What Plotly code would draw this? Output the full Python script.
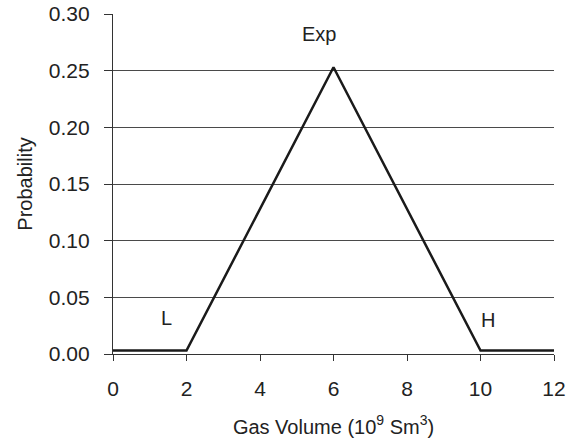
import plotly.graph_objects as go

# Triangular probability distribution of gas volume
gas_volume = [0, 2, 6, 10, 12]
probability = [0.003, 0.003, 0.253, 0.003, 0.003]

x_ticks = [0, 2, 4, 6, 8, 10, 12]
y_ticks = [0.00, 0.05, 0.10, 0.15, 0.20, 0.25, 0.30]

point_labels = ["L", "Exp", "H"]
label_x = [1.45, 5.6, 10.2]
label_y = [0.032, 0.282, 0.030]

FAMILY = "Liberation Sans, Arial, sans-serif"
INK = "#222222"

fig = go.Figure()
fig.add_trace(go.Scatter(
    x=gas_volume, y=probability, mode="lines",
    line=dict(color="#1a1a1a", width=2.5),
    showlegend=False, hoverinfo="skip",
))

for txt, xv, yv in zip(point_labels, label_x, label_y):
    fig.add_annotation(x=xv, y=yv, text=txt, showarrow=False,
                       font=dict(family=FAMILY, size=20, color=INK))

fig.update_layout(
    width=575, height=445,
    margin=dict(l=113, r=21, t=14, b=91),
    paper_bgcolor="white", plot_bgcolor="white",
    font=dict(family=FAMILY, size=20, color=INK),
    xaxis=dict(
        range=[0, 12], tickvals=x_ticks, ticktext=[str(v) for v in x_ticks],
        tickfont=dict(family=FAMILY, size=21, color=INK),
        showgrid=False, zeroline=False, automargin=False,
        showline=True, linecolor="#333333", linewidth=1.3,
        ticks="outside", ticklen=6, tickcolor="#333333", tickwidth=1.3,
        ticklabelstandoff=10,
        title=dict(text="Gas Volume (10<sup>9</sup> Sm<sup>3</sup>)",
                   font=dict(family=FAMILY, size=20, color=INK), standoff=20),
    ),
    yaxis=dict(
        range=[0, 0.30], tickvals=y_ticks, ticktext=[f"{v:.2f}" for v in y_ticks],
        tickfont=dict(family=FAMILY, size=21, color=INK),
        showgrid=True, gridcolor="#4a4a4a", gridwidth=1,
        zeroline=False, automargin=False,
        showline=True, linecolor="#333333", linewidth=1.3,
        ticks="outside", ticklen=8, tickcolor="#333333", tickwidth=1.3,
        ticklabelstandoff=10,
        title=dict(text="Probability",
                   font=dict(family=FAMILY, size=20, color=INK), standoff=10),
    ),
)

fig.write_html("out.html")
